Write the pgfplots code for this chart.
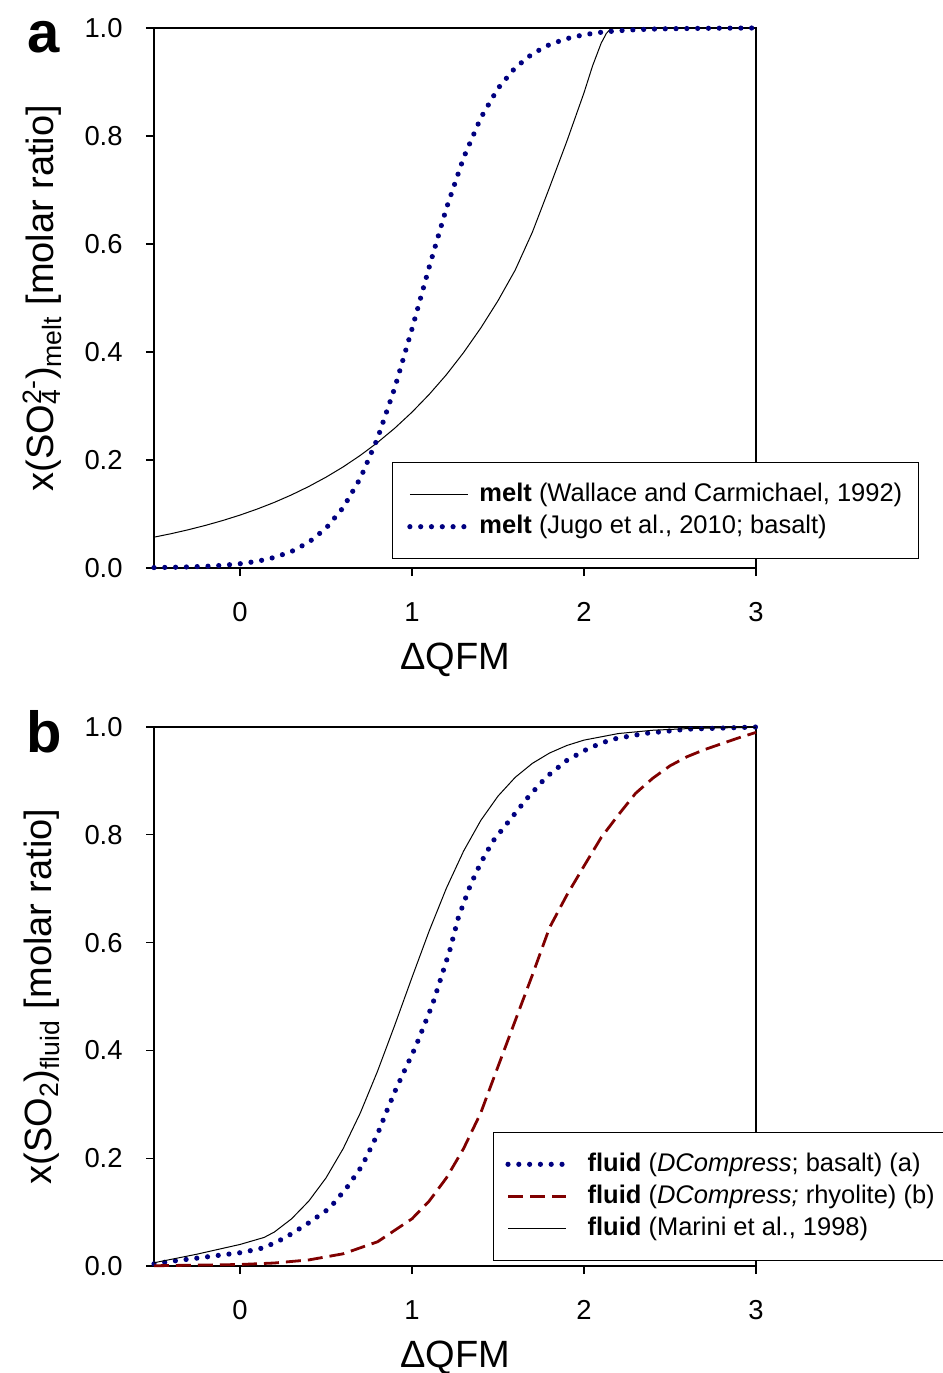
\documentclass[border=0pt]{standalone}
\usepackage{fontspec}
\setmainfont{Liberation Sans}
\usepackage{pgfplots}
\pgfplotsset{compat=1.18}

\definecolor{dotblue}{RGB}{0,0,128}
\definecolor{dashred}{RGB}{128,0,0}

% 1 px of the reference = 0.5pt
\pgfplotsset{
  panel/.style={
    scale only axis, width=301pt, height=270pt,
    xmin=-0.5, xmax=3, ymin=0, ymax=1,
    xtick={0,1,2,3}, ytick={0,0.2,0.4,0.6,0.8,1.0},
    /pgf/number format/assume math mode=true,
    yticklabel style={/pgf/number format/fixed,/pgf/number format/fixed zerofill,
      /pgf/number format/precision=1, anchor=east, inner sep=0pt, xshift=-11.5pt},
    xticklabel style={anchor=center, inner sep=0pt, yshift=-18pt},
    tick label style={font=\fontsize{13.7}{16}\selectfont},
    tick align=outside, xtick pos=bottom, ytick pos=left,
    major tick length=4pt,
    axis line style={line width=0.6pt},
    every tick/.style={black, line width=0.6pt},
    clip=false,
    xlabel={ΔQFM},
    xlabel style={font=\fontsize{19}{22}\selectfont, at={(axis description cs:0.5,-0.17)}, anchor=center},
    ylabel style={font=\fontsize{19}{22}\selectfont, at={(axis description cs:-0.186,0.5)}, anchor=center},
    legend cell align=left,
    legend image code/.code={\draw[##1] (0pt,0pt) -- (29pt,0pt);},
    legend style={draw=black, line width=0.5pt, font=\fontsize{12.75}{15}\selectfont,
      inner ysep=9pt, row sep=2pt,
      nodes={inner sep=0.5pt, text height=10pt, text depth=3pt}},
  },
  dotline/.style={dotblue, line width=2.6pt, line cap=round, dash pattern=on 0pt off 5.4pt},
  dashline/.style={dashred, line width=1.4pt, dash pattern=on 7.5pt off 3.5pt},
  thinline/.style={black, line width=0.5pt},
}

\begin{document}
\begin{tikzpicture}
\useasboundingbox (0,0) rectangle (471.5pt,-686.5pt);

% panel a
\begin{axis}[panel, at={(77pt,-284pt)}, anchor=south west,
  ylabel={x(SO\rlap{\textsubscript{4}}\textsuperscript{2-})\textsubscript{melt} [molar ratio]},
  legend style={at={(rel axis cs:0.395,0.196)}, anchor=north west,
    inner xsep=7.5pt, column sep=4pt}]
\addplot[thinline] coordinates {
  (-0.5,0.0571) (-0.4,0.0636) (-0.3,0.0709) (-0.2,0.0790) (-0.1,0.0880)
  (0.0,0.0980) (0.1,0.1092) (0.2,0.1216) (0.3,0.1355) (0.4,0.1510)
  (0.5,0.1682) (0.6,0.1873) (0.7,0.2087) (0.8,0.2325) (0.9,0.2590)
  (1.0,0.2886) (1.1,0.3215) (1.2,0.3580) (1.3,0.3990) (1.4,0.4445)
  (1.5,0.4950) (1.6,0.5517) (1.7,0.6220) (1.8,0.7050) (1.9,0.7900)
  (2.0,0.8800) (2.05,0.9300) (2.1,0.9720) (2.13,0.9900) (2.16,1.0) (3.0,1.0)};
\addlegendentry{\textbf{melt} (Wallace and Carmichael, 1992)}
\addplot[dotline] coordinates {
  (-0.5,0.0008) (-0.4,0.0013) (-0.3,0.0020) (-0.2,0.0032) (-0.1,0.0050)
  (0.0,0.0079) (0.1,0.0124) (0.2,0.0196) (0.3,0.0307) (0.4,0.0477)
  (0.5,0.0736) (0.6,0.1119) (0.7,0.1664) (0.8,0.2403) (0.9,0.3339)
  (1.0,0.4427) (1.1,0.5573) (1.2,0.6661) (1.3,0.7597) (1.4,0.8336)
  (1.5,0.8882) (1.6,0.9264) (1.7,0.9523) (1.8,0.9694) (1.9,0.9804)
  (2.0,0.9876) (2.1,0.9921) (2.2,0.9950) (2.3,0.9968) (2.4,0.9980)
  (2.5,0.9987) (2.75,0.9996) (3.0,1.0)};
\addlegendentry{\textbf{melt} (Jugo et al., 2010; basalt)}
\end{axis}

% panel b
\begin{axis}[panel, at={(77pt,-633pt)}, anchor=south west, height=269.5pt,
  ylabel={x(SO\textsubscript{2})\textsubscript{fluid} [molar ratio]},
  legend style={at={(rel axis cs:0.563,0.249)}, anchor=north west,
    inner xsep=6pt, column sep=9pt}]
\addplot[dotline] coordinates {
  (-0.5,0.004) (-0.37,0.010) (-0.24,0.015) (-0.12,0.020) (0.01,0.025)
  (0.14,0.034) (0.26,0.052) (0.39,0.078) (0.52,0.107) (0.62,0.145)
  (0.71,0.186) (0.80,0.245) (0.85,0.285) (0.905,0.327) (0.96,0.365)
  (1.02,0.406) (1.07,0.446) (1.12,0.486) (1.14,0.506) (1.22,0.586)
  (1.27,0.647) (1.34,0.707) (1.40,0.748) (1.47,0.788) (1.57,0.828)
  (1.67,0.868) (1.78,0.907) (1.90,0.938) (2.03,0.961) (2.16,0.977)
  (2.35,0.988) (2.6,0.996) (3.0,1.0)};
\addlegendentry{\textbf{fluid} (\textit{DCompress}; basalt) (a)}
\addplot[dashline] coordinates {
  (-0.5,0.0005) (0.0,0.0028) (0.2,0.0056) (0.4,0.0113) (0.6,0.0227)
  (0.8,0.0450) (1.0,0.0876) (1.1,0.1205) (1.2,0.1634) (1.3,0.2179)
  (1.4,0.2843) (1.5,0.3700) (1.6,0.4550) (1.7,0.5400) (1.8,0.6280)
  (1.9,0.6880) (2.0,0.7420) (2.1,0.7950) (2.2,0.8370) (2.3,0.8770)
  (2.4,0.9050) (2.5,0.9280) (2.6,0.9450) (2.7,0.9580) (2.8,0.9690)
  (2.9,0.9800) (3.0,0.9900)};
\addlegendentry{\textbf{fluid} (\textit{DCompress;} rhyolite) (b)}
\addplot[thinline] coordinates {
  (-0.5,0.006) (-0.25,0.022) (0.0,0.040) (0.14,0.053) (0.2,0.0631)
  (0.3,0.0876) (0.4,0.1205) (0.5,0.1634) (0.6,0.2179) (0.7,0.2843)
  (0.8,0.3617) (0.9,0.4470) (1.0,0.5354) (1.1,0.6217) (1.2,0.7010)
  (1.3,0.7698) (1.4,0.8267) (1.5,0.8718) (1.6,0.9066) (1.7,0.9326)
  (1.8,0.9518) (1.9,0.9657) (2.0,0.9757) (2.2,0.9879) (2.4,0.9940)
  (2.6,0.9970) (2.8,0.9985) (3.0,0.9993)};
\addlegendentry{\textbf{fluid} (Marini et al., 1998)}
\end{axis}

\node[font=\bfseries\fontsize{29}{29}\selectfont, anchor=base] at (22pt,-26pt) {a};
\node[font=\bfseries\fontsize{29}{29}\selectfont, anchor=base] at (22pt,-376pt) {b};
\end{tikzpicture}
\end{document}
